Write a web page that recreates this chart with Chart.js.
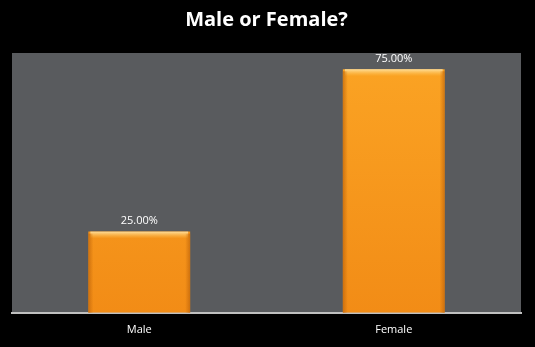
<!DOCTYPE html>
<html>
<head>
<meta charset="utf-8">
<script src="https://cdn.jsdelivr.net/npm/chart.js@4"></script>
<style>
  html, body { margin: 0; padding: 0; background: #000; }
  #wrap { width: 535px; height: 347px; }
</style>
</head>
<body>
<div id="wrap"><canvas id="genderChart"></canvas></div>
<script>
// chart data
const categories = ["Male", "Female"];
const shares = [25, 75];
const shareLabels = ["25.00%", "75.00%"];

// gray plot background behind the bars
const plotBackground = {
  id: "plotBackground",
  beforeDraw(chart) {
    const { ctx, chartArea: a } = chart;
    ctx.save();
    ctx.fillStyle = "#595b5e";
    ctx.fillRect(a.left, a.top, a.right - a.left, a.bottom - a.top);
    ctx.restore();
  },
};

// bevel highlights and value labels on the bars
const barDecor = {
  id: "barDecor",
  afterDatasetsDraw(chart) {
    const ctx = chart.ctx;
    const meta = chart.getDatasetMeta(0);
    ctx.save();
    meta.data.forEach((bar, i) => {
      const left = bar.x - bar.width / 2;
      const right = bar.x + bar.width / 2;
      const top = bar.y;
      const bottom = bar.base;
      // top highlight
      let g = ctx.createLinearGradient(0, top, 0, top + 7);
      g.addColorStop(0, "rgba(255,230,170,0.9)");
      g.addColorStop(1, "rgba(255,200,90,0)");
      ctx.fillStyle = g;
      ctx.fillRect(left + 2, top, right - left - 4, 7);
      // side shading
      g = ctx.createLinearGradient(left, 0, left + 5, 0);
      g.addColorStop(0, "rgba(190,100,10,0.7)");
      g.addColorStop(1, "rgba(190,100,10,0)");
      ctx.fillStyle = g;
      ctx.fillRect(left, top + 2, 5, bottom - top - 2);
      g = ctx.createLinearGradient(right, 0, right - 5, 0);
      g.addColorStop(0, "rgba(190,100,10,0.7)");
      g.addColorStop(1, "rgba(190,100,10,0)");
      ctx.fillStyle = g;
      ctx.fillRect(right - 5, top + 2, 5, bottom - top - 2);

      ctx.fillStyle = "#ffffff";
      ctx.font = "11px 'Open Sans', sans-serif";
      ctx.textAlign = "center";
      ctx.textBaseline = "bottom";
      ctx.fillText(shareLabels[i], bar.x, top - 5);
    });
    ctx.restore();
  },
};

const ctx = document.getElementById("genderChart").getContext("2d");

new Chart(ctx, {
  type: "bar",
  data: {
    labels: categories,
    datasets: [
      {
        data: shares,
        backgroundColor: (c) => {
          const area = c.chart.chartArea;
          if (!area) return "#f7961e";
          const g = c.chart.ctx.createLinearGradient(0, area.top, 0, area.bottom);
          g.addColorStop(0, "#fba424");
          g.addColorStop(1, "#f28c16");
          return g;
        },
        borderWidth: 0,
        categoryPercentage: 1,
        barPercentage: 0.4,
      },
    ],
  },
  options: {
    responsive: true,
    maintainAspectRatio: false,
    animation: false,
    layout: { padding: { left: 12, right: 14, top: 0, bottom: 1 } },
    scales: {
      y: { display: false, min: 0, max: 80 },
      x: {
        grid: { display: false, drawTicks: false },
        border: { color: "#c0c0c0", width: 2 },
        ticks: {
          color: "#ffffff",
          font: { family: "'Open Sans', sans-serif", size: 11 },
          padding: 10,
        },
      },
    },
    plugins: {
      legend: { display: false },
      tooltip: { enabled: false },
      title: {
        display: true,
        text: "Male or Female?",
        color: "#ffffff",
        font: { family: "'Open Sans', sans-serif", size: 20, weight: "bold" },
        padding: { top: 8, bottom: 21 },
      },
    },
  },
  plugins: [plotBackground, barDecor],
});
</script>
</body>
</html>
